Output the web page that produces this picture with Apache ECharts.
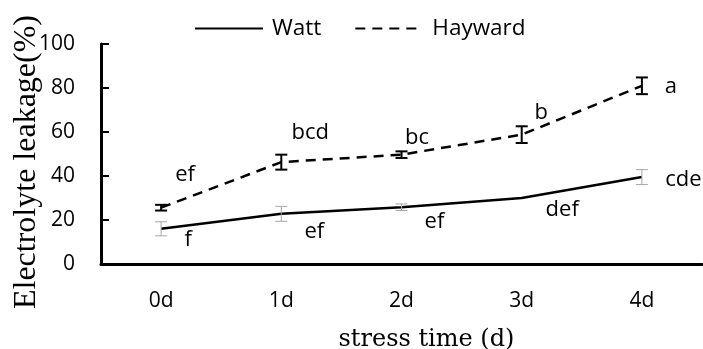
<!DOCTYPE html>
<html>
<head>
<meta charset="utf-8">
<script src="https://cdn.jsdelivr.net/npm/echarts@6/dist/echarts.min.js"></script>
<style>html,body{margin:0;padding:0;background:#fff;}#c{width:703px;height:349px;}</style>
</head>
<body>
<div id="c"></div>
<script>
const categories = ['0d', '1d', '2d', '3d', '4d'];
const wattValues = [16, 22.8, 25.8, 30, 39.5];
const wattErrors = [3.2, 3.4, 1.5, 0, 3.4];
const wattLetters = ['f', 'ef', 'ef', 'def', 'cde'];
const haywardValues = [25.6, 46.3, 49.7, 58.8, 81];
const haywardErrors = [1.3, 3.4, 1.5, 3.8, 3.8];
const haywardLetters = ['ef', 'bcd', 'bc', 'b', 'a'];
const yTicks = [0, 20, 40, 60, 80, 100];

// label offsets (style: pixels relative to the point)
const wattLabelOffsets = [[27, 11], [33, 18], [33, 14.5], [40.5, 12], [41.5, 2.6]];
const haywardLabelOffsets = [[24, -33], [29, -29], [15.5, -17], [19.5, -22], [29, 1]];

const SANS = '"Open Sans", "Noto Sans", sans-serif';

function errorSeries(name, values, errors, letters, offsets, color, width) {
  const data = values.map((v, i) => [i, v, errors[i], i]);
  return {
    name: name + ' err',
    type: 'custom',
    z: 5,
    encode: { x: 0, y: 1 },
    data: data,
    renderItem: function (params, api) {
      const i = api.value(0);
      const v = api.value(1);
      const e = api.value(2);
      const idx = api.value(3);
      const c = api.coord([i, v]);
      const hi = api.coord([i, v + e]);
      const lo = api.coord([i, v - e]);
      const cap = 6;
      const children = [];
      if (e > 0) {
        const st = { stroke: color, lineWidth: width, fill: null };
        children.push({ type: 'line', shape: { x1: c[0], y1: hi[1], x2: c[0], y2: lo[1] }, style: st });
        children.push({ type: 'line', shape: { x1: c[0] - cap, y1: hi[1], x2: c[0] + cap, y2: hi[1] }, style: st });
        children.push({ type: 'line', shape: { x1: c[0] - cap, y1: lo[1], x2: c[0] + cap, y2: lo[1] }, style: st });
      }
      children.push({
        type: 'text',
        x: c[0] + offsets[idx][0],
        y: c[1] + offsets[idx][1],
        style: {
          text: letters[idx],
          fill: '#000',
          font: '22px ' + SANS,
          textAlign: 'center',
          textVerticalAlign: 'middle'
        }
      });
      return { type: 'group', children: children };
    }
  };
}

const chart = echarts.init(document.getElementById('c'));
chart.setOption({
  animation: false,
  backgroundColor: '#fff',
  grid: { left: 101, right: 1, top: 44, bottom: 85, containLabel: false, outerBoundsMode: 'none' },
  legend: {
    left: 194,
    top: 17,
    padding: 0,
    itemWidth: 68,
    itemHeight: 14,
    itemGap: 33,
    data: ['Watt', 'Hayward'],
    itemStyle: { opacity: 0 },
    textStyle: { fontFamily: SANS, fontSize: 22.5, color: '#000', padding: [0, 0, 0, 4] }
  },
  xAxis: {
    type: 'category',
    data: categories,
    boundaryGap: true,
    axisLine: { lineStyle: { color: '#000', width: 3 } },
    axisTick: { inside: true, length: 8, lineStyle: { color: '#000', width: 2 } },
    axisLabel: { color: '#000', fontFamily: SANS, fontSize: 21, margin: 27 },
    name: 'stress time (d)',
    nameLocation: 'middle',
    nameGap: 64,
    nameMoveOverlap: false,
    nameTextStyle: { fontFamily: '"DejaVu Serif", serif', fontSize: 24, color: '#000', padding: [0, 0, 0, 50] }
  },
  yAxis: {
    type: 'value',
    min: yTicks[0],
    max: yTicks[yTicks.length - 1],
    interval: 20,
    splitLine: { show: false },
    axisLine: { show: true, lineStyle: { color: '#000', width: 3 } },
    axisTick: { show: true, inside: true, length: 8, lineStyle: { color: '#000', width: 2 } },
    axisLabel: { color: '#000', fontFamily: SANS, fontSize: 21, margin: 26 },
    name: 'Electrolyte leakage(%)',
    nameLocation: 'middle',
    nameRotate: 90,
    nameGap: 58,
    nameMoveOverlap: false,
    nameTextStyle: { fontFamily: '"Liberation Serif", "Times New Roman", serif', fontSize: 32, color: '#000', padding: [0, 16, 0, 0] }
  },
  series: [
    {
      name: 'Watt',
      type: 'line',
      data: wattValues,
      symbol: 'none',
      lineStyle: { color: '#000', width: 2.5, type: 'solid' },
      itemStyle: { color: '#000' },
      z: 3
    },
    {
      name: 'Hayward',
      type: 'line',
      data: haywardValues,
      symbol: 'none',
      lineStyle: { color: '#000', width: 2.5, type: [10, 7] },
      itemStyle: { color: '#000' },
      z: 3
    },
    errorSeries('Watt', wattValues, wattErrors, wattLetters, wattLabelOffsets, '#a6a6a6', 1),
    errorSeries('Hayward', haywardValues, haywardErrors, haywardLetters, haywardLabelOffsets, '#000', 2)
  ]
});
</script>
</body>
</html>
